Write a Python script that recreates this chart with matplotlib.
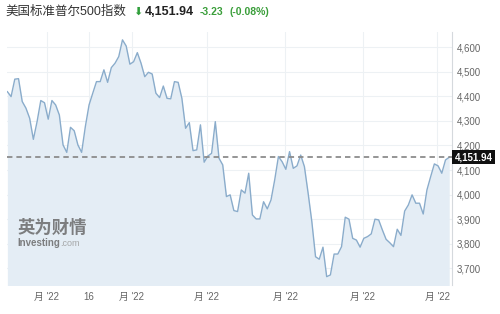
import numpy as np
import matplotlib
matplotlib.use('Agg')
import matplotlib.pyplot as plt

plt.rcParams['font.family'] = ['Liberation Sans', 'Noto Sans CJK SC', 'DejaVu Sans']

# S&P 500 closes (one per trading day)
closes = [4419, 4399, 4470, 4472, 4379, 4352, 4311, 4225, 4297, 4383,
          4374, 4307, 4383, 4365, 4324, 4202, 4172, 4274, 4260, 4202,
          4172, 4277, 4365, 4413, 4460, 4460, 4508, 4457, 4517, 4535,
          4562, 4630, 4605, 4531, 4541, 4578, 4535, 4480, 4498, 4491,
          4413, 4395, 4442, 4392, 4390, 4460, 4457, 4392, 4270, 4293,
          4179, 4182, 4284, 4132, 4157, 4168, 4297, 4148, 4121, 3992,
          3999, 3935, 3931, 4019, 4006, 4087, 3917, 3901, 3901, 3971,
          3942, 3978, 4060, 4155, 4134, 4103, 4175, 4107, 4117, 4161,
          4114, 4006, 3890, 3747, 3737, 3786, 3666, 3673, 3758, 3758,
          3788, 3908, 3900, 3822, 3815, 3786, 3822, 3829, 3840, 3900,
          3897, 3856, 3818, 3804, 3788, 3859, 3834, 3933, 3958, 3999,
          3965, 3965, 3921, 4019, 4073, 4125, 4117, 4087, 4141, 4151.94]
last_price = 4151.94
change_txt = '-3.23'
change_pct = '(-0.08%)'
title_txt = '美国标准普尔500指数'

xtick_pos    = [10.6, 22.0, 33.5, 53.7, 74.8, 95.7, 115.8]
xtick_labels = ["月 '22", '16', "月 '22", "月 '22", "月 '22", "月 '22", "月 '22"]
ytick_vals   = np.arange(3700, 4700, 100)

line_col = '#8aaccb'
fill_col = '#e4edf5'
grid_col = '#edf1f4'
text_col = '#666666'

fig = plt.figure(figsize=(5.0, 3.14), dpi=100)
ax = fig.add_axes([7/500, 1 - 285/314, 445/500, 253/314])

x = np.arange(len(closes))
ax.fill_between(x, closes, 3500, color=fill_col, lw=0, zorder=1)
ax.plot(x, closes, color=line_col, lw=1.0, zorder=3)

ax.set_xlim(-0.1, 119.75)
ax.set_ylim(3632, 4662)

ax.set_xticks(xtick_pos)
ax.set_xticklabels(xtick_labels)
ax.set_yticks(ytick_vals)
ax.set_yticklabels(['{:,}'.format(v) for v in ytick_vals])
ax.yaxis.tick_right()
ax.tick_params(axis='both', length=0, labelsize=7, colors=text_col)
ax.tick_params(axis='x', pad=5)
ax.tick_params(axis='y', pad=3.5)
ax.grid(True, color=grid_col, lw=0.8, zorder=0)
ax.set_axisbelow(True)

for s in ['top', 'left', 'bottom']:
	ax.spines[s].set_visible(False)
ax.spines['right'].set_color('#d5d9dd')
ax.spines['right'].set_linewidth(0.8)

# last price marker
ax.axhline(last_price, color='#8c8c8c', lw=1.3, ls=(0, (3, 2.2)), zorder=4)
ax.text(1.0 + 2.6/445, last_price, '4,151.94', transform=ax.get_yaxis_transform(),
	ha='left', va='center', fontsize=7, fontweight='bold', color='white',
	bbox=dict(boxstyle='square,pad=0.22', fc='#111111', ec='none'),
	clip_on=False, zorder=10)

# watermark
ax.text(0.024, 0.205, '英为财情', transform=ax.transAxes, fontsize=12.5,
	fontweight='bold', color='#6a6a6a', alpha=0.85, zorder=5)
t_inv = ax.text(0.024, 0.155, 'Investing', transform=ax.transAxes, fontsize=7,
	fontweight='bold', color='#6a6a6a', alpha=0.85, zorder=5)
ax.annotate('.com', xy=(1, 0), xycoords=t_inv, xytext=(-0.3, 0),
	textcoords='offset points', fontsize=6.5, color='#9a9a9a', alpha=0.85,
	va='bottom', zorder=5)

# header
fig.text(5/500, 1 - 12/314, title_txt, fontsize=9, color='#333333', va='center')
fig.text(133/500, 1 - 12/314, '⬇', fontsize=8, color='#2f9e3a', va='center',
	family='DejaVu Sans')
fig.text(145/500, 1 - 12/314, '4,151.94', fontsize=9, fontweight='bold',
	color='#222222', va='center')
fig.text(200/500, 1 - 12/314, change_txt, fontsize=7.5, fontweight='bold',
	color='#3a9e3a', va='center')
fig.text(230/500, 1 - 12/314, change_pct, fontsize=7.5, fontweight='bold',
	color='#3a9e3a', va='center')

fig.savefig('out.png', dpi=100)
